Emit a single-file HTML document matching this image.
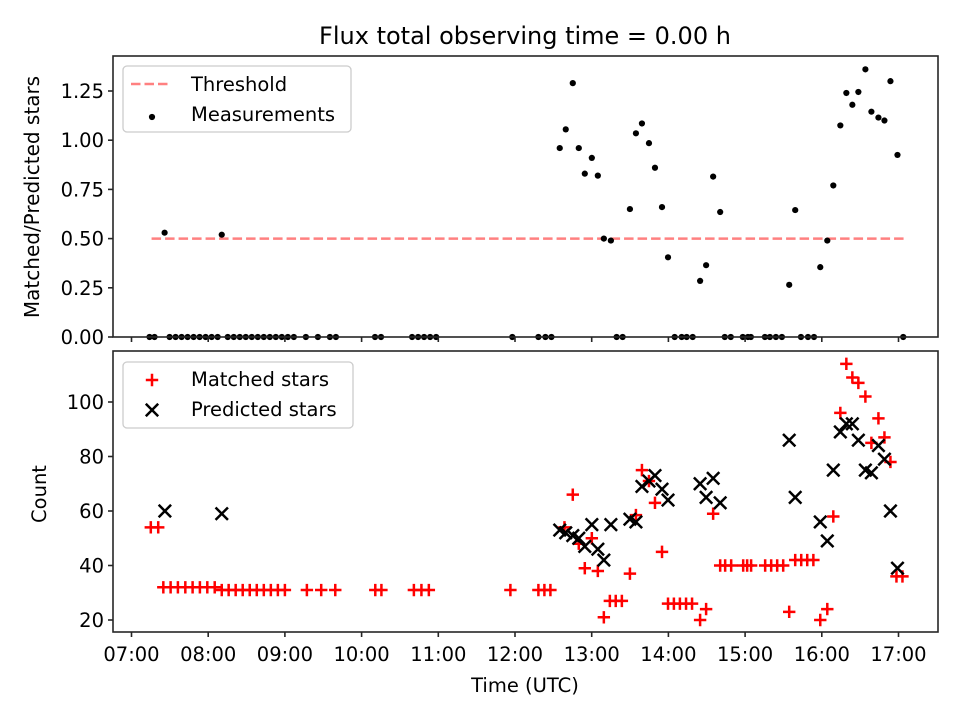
<!DOCTYPE html>
<html><head><meta charset="utf-8"><style>
body{margin:0;background:#fff}
svg{display:block;font-family:"DejaVu Sans","Liberation Sans",sans-serif}
</style></head><body>
<svg id="c" width="960" height="720" viewBox="0 0 960 720" xmlns="http://www.w3.org/2000/svg"></svg>
<script>
// Data (time in minutes since 07:00 UTC)
const ratioTimes=[25.9,70.6,335,339.7,345.2,349.9,354.6,360.1,364.8,369.5,375,389.9,394.6,399.3,404.8,409.5,415,419.7,444.8,449.5,455,460.5,514.5,519.2,538.8,544.3,549,554.5,559.2,563.9,568.6,574.1,578.8,584.3,589,593.7,599.2,
14.1,18,29.8,34.5,39.2,43.9,48.6,53.3,58,62.7,67.4,75.3,80,84.7,89.4,94.1,98.8,103.5,108.2,112.9,117.6,122.3,127,136.4,145.8,155.2,159.9,190.5,195.2,219.5,224.2,228.9,233.6,238.3,297.9,318.3,323.8,328.5,379.5,384.2,424.9,430.4,434.3,439,464.1,468.8,478.2,482.2,484.5,495.5,499.4,504.1,508.8,523.7,529.2,533.9,603.7];
const ratioValues=[0.53,0.52,0.96,1.055,1.29,0.96,0.83,0.91,0.82,0.50,0.49,0.65,1.035,1.085,0.985,0.86,0.66,0.405,0.285,0.365,0.815,0.635,0.265,0.645,0.355,0.49,0.77,1.075,1.24,1.18,1.245,1.36,1.145,1.115,1.10,1.30,0.925,
0,0,0,0,0,0,0,0,0,0,0,0,0,0,0,0,0,0,0,0,0,0,0,0,0,0,0,0,0,0,0,0,0,0,0,0,0,0,0,0,0,0,0,0,0,0,0,0,0,0,0,0,0,0,0,0,0];
const thresholdValue=0.5;
const thresholdSpan=[15.7,606];
const matchedTimes=[15.1,20.9,24.9,30.6,36.3,42.1,47.8,53.5,59.3,65.1,70.6,76,81.5,87,92.5,98,103.5,109,114.5,120,137.2,148.4,159.4,190.7,195.5,220.9,226.8,232.6,296.4,318.3,323,327.7,338.7,345.2,349.9,354.6,360.1,364.8,369.5,374.2,378.8,383.6,389.9,394.6,399.3,404.8,409.5,415,419.7,424.3,429,433.8,438.5,444.8,449.5,455,460.5,464.4,469.1,478.5,481.6,484.7,495.7,500.4,505.1,509.8,514.5,519.2,523.9,528.6,533.4,538.8,544.3,549,554.5,559.2,563.9,568.6,574.1,578.8,584.3,589,593.7,598.4,603.1];
const matchedValues=[54,54,32,32,32,32,32,32,32,32,31,31,31,31,31,31,31,31,31,31,31,31,31,31,31,31,31,31,31,31,31,31,54,66,48,39,50,38,21,27,27,27,37,58.5,75,71,63,45,26,26,26,26,26,20,24,59,40,40,40,40,40,40,40,40,40,40,23,42,42,42,42,20,24,58,96,114,109,107,102,85,94,87,78,36,36];
const predictedTimes=[26.1,70.6,335,339.7,345.2,349.9,354.6,360.1,364.8,369.5,375,389.9,394.6,399.3,404.8,409.5,415,419.7,444.8,449.5,455,460.5,514.5,519.2,538.8,544.3,549,554.5,559.2,563.9,568.6,574.1,578.8,584.3,589,593.7,599.2];
const predictedValues=[60,59,53,52,51,50,47,55,46,42,55,57,56,69,71,73,68,64,70,65,72,63,86,65,56,49,75,89,92,92,86,75,74,84,79,60,39];
const xTickLabels=["07:00","08:00","09:00","10:00","11:00","12:00","13:00","14:00","15:00","16:00","17:00"];
const topYTicks=[0,0.25,0.5,0.75,1.0,1.25];
const botYTicks=[20,40,60,80,100];

const NS="http://www.w3.org/2000/svg";
const svg=document.getElementById('c');
function mk(tag,attrs,parent){const e=document.createElementNS(NS,tag);for(const k in attrs)e.setAttribute(k,attrs[k]);(parent||svg).appendChild(e);return e;}
const L=113,R=938,T1=56,B1=337,T2=351,B2=632;
const xs=m=>131.5+m/60*76.7;
const y1=v=>337-v*196.8;
const y2=v=>620-(v-20)*2.725;
const MS=6.2;

let t=mk('text',{x:525,y:44,'text-anchor':'middle','font-size':24});t.textContent="Flux total observing time = 0.00 h";



const g1=mk('g',{});


let th=mk('line',{x1:xs(thresholdSpan[0]),x2:xs(thresholdSpan[1]),y1:y1(thresholdValue),y2:y1(thresholdValue),stroke:'#ff8080','stroke-width':2.5,'stroke-dasharray':'9.5,4'},g1);


ratioTimes.forEach((m,i)=>{
  const c=mk('circle',{cx:xs(m),cy:y1(ratioValues[i]),r:3.1,fill:'#000'},g1);
  
  
});
const g2=mk('g',{});


matchedTimes.forEach((m,i)=>{
  const x=xs(m),y=y2(matchedValues[i]);
  const p=mk('path',{d:`M${x-MS},${y}H${x+MS}M${x},${y-MS}V${y+MS}`,stroke:'#f00','stroke-width':2.5},g2);
  
  
});
predictedTimes.forEach((m,i)=>{
  const x=xs(m),y=y2(predictedValues[i]);
  const p=mk('path',{d:`M${x-MS},${y-MS}L${x+MS},${y+MS}M${x-MS},${y+MS}L${x+MS},${y-MS}`,stroke:'#000','stroke-width':2.5},g2);
  
  
});

[[T1,B1,'top-axes-frame'],[T2,B2,'bottom-axes-frame']].forEach(([a,b,n])=>{
  const r=mk('rect',{x:L,y:a,width:R-L,height:b-a,fill:'none',stroke:'#262626','stroke-width':1.6});
  
  
});
xTickLabels.forEach((lab,i)=>{
  const x=xs(i*60);
  mk('line',{x1:x,x2:x,y1:B1,y2:B1+5,stroke:'#262626','stroke-width':1.6});
  mk('line',{x1:x,x2:x,y1:B2,y2:B2+5,stroke:'#262626','stroke-width':1.6});
  const tx=mk('text',{x:x,y:661,'text-anchor':'middle','font-size':19.5});tx.textContent=lab;
  
  
});
topYTicks.forEach(v=>{
  const y=y1(v);
  mk('line',{x1:L-5,x2:L,y1:y,y2:y,stroke:'#262626','stroke-width':1.6});
  const tx=mk('text',{x:L-9,y:y+7,'text-anchor':'end','font-size':19.5});tx.textContent=v.toFixed(2);
  
  
});
botYTicks.forEach(v=>{
  const y=y2(v);
  mk('line',{x1:L-5,x2:L,y1:y,y2:y,stroke:'#262626','stroke-width':1.6});
  const tx=mk('text',{x:L-9,y:y+7,'text-anchor':'end','font-size':19.5});tx.textContent=String(v);
  
  
});
let a1=mk('text',{x:0,y:0,'text-anchor':'middle','font-size':20,transform:'translate(39,197) rotate(-90)'});a1.textContent="Matched/Predicted stars";


let a2=mk('text',{x:0,y:0,'text-anchor':'middle','font-size':19.5,transform:'translate(46,494) rotate(-90)'});a2.textContent="Count";


let a3=mk('text',{x:525,y:692,'text-anchor':'middle','font-size':19.5});a3.textContent="Time (UTC)";



const lg1=mk('g',{});


mk('rect',{x:123,y:66,width:228,height:66,rx:4,fill:'#fff','fill-opacity':0.8,stroke:'#ccc','stroke-width':1.3},lg1);
mk('line',{x1:131,x2:171,y1:84,y2:84,stroke:'#ff8080','stroke-width':2.5,'stroke-dasharray':'9.5,4'},lg1);
let lt=mk('text',{x:191,y:91,'font-size':19.5},lg1);lt.textContent="Threshold";


mk('circle',{cx:152,cy:117,r:3.1,fill:'#000'},lg1);
lt=mk('text',{x:191,y:121,'font-size':19.5},lg1);lt.textContent="Measurements";



const lg2=mk('g',{});


mk('rect',{x:123,y:362,width:230,height:66,rx:4,fill:'#fff','fill-opacity':0.8,stroke:'#ccc','stroke-width':1.3},lg2);
mk('path',{d:'M145.8,380H158.2M152,373.8V386.2',stroke:'#f00','stroke-width':2.5},lg2);
lt=mk('text',{x:191,y:386,'font-size':19.5},lg2);lt.textContent="Matched stars";


mk('path',{d:'M145.8,403.8L158.2,416.2M145.8,416.2L158.2,403.8',stroke:'#000','stroke-width':2.5},lg2);
lt=mk('text',{x:191,y:416,'font-size':19.5},lg2);lt.textContent="Predicted stars";


</script>
</body></html>
